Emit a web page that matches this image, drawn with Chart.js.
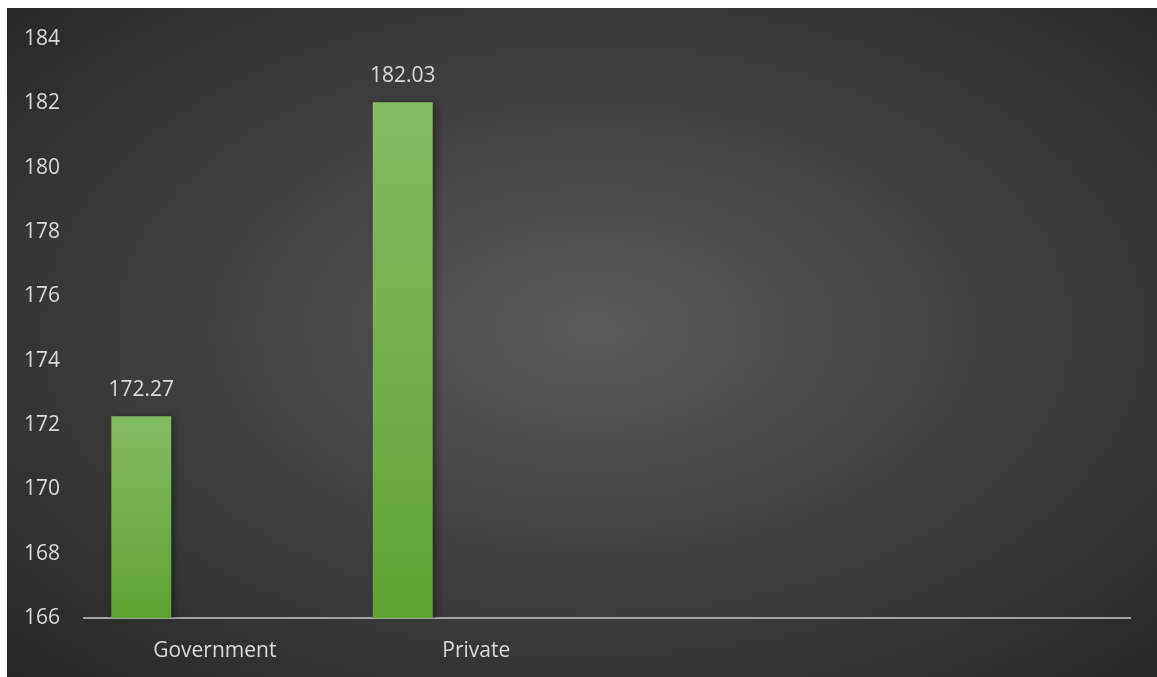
<!DOCTYPE html>
<html>
<head>
<meta charset="utf-8">
<script src="https://cdn.jsdelivr.net/npm/chart.js@4"></script>
<style>
  html, body { margin: 0; padding: 0; background: #fff; }
  #wrap {
    position: absolute; left: 7px; top: 8px; width: 1150px; height: 669px;
    background: radial-gradient(ellipse farthest-corner at 51% 48%, #5a5a5a 0%, #3d3d3d 55%, #262626 100%);
  }
</style>
</head>
<body>
<div id="wrap"><canvas id="my-chart" width="1150" height="669"></canvas></div>
<script>
const categories = ['Government', 'Private', '', ''];
const seriesA = [172.27, 182.03, null, null];
const seriesB = [null, null, null, null];
const seriesC = [null, null, null, null];
const yTicks = { min: 166, max: 184, step: 2 };

const textColor = '#d9d9d9';
const fontFamily = '"Open Sans", sans-serif';
const fontSize = 21;

// gradient per bar, light at the top, darker at the base
function barFill(c) {
  const chart = c.chart;
  if (!chart.chartArea || c.raw == null) return '#6aac3e';
  const y = chart.scales.y;
  const top = y.getPixelForValue(c.raw);
  const bottom = y.getPixelForValue(yTicks.min);
  const g = chart.ctx.createLinearGradient(0, top, 0, bottom);
  g.addColorStop(0, '#84bc62');
  g.addColorStop(1, '#5fa233');
  return g;
}

const barShadow = {
  id: 'barShadow',
  beforeDatasetsDraw(chart) {
    const ctx = chart.ctx;
    ctx.save();
    ctx.shadowColor = 'rgba(0,0,0,0.45)';
    ctx.shadowBlur = 7;
    ctx.shadowOffsetX = 3;
    ctx.shadowOffsetY = 1;
  },
  afterDatasetsDraw(chart) {
    chart.ctx.restore();
  }
};

const valueLabels = {
  id: 'valueLabels',
  afterDraw(chart) {
    const ctx = chart.ctx;
    ctx.save();
    ctx.fillStyle = textColor;
    ctx.font = fontSize + 'px ' + fontFamily;
    ctx.textAlign = 'center';
    ctx.textBaseline = 'middle';
    chart.data.datasets.forEach((ds, i) => {
      chart.getDatasetMeta(i).data.forEach((bar, j) => {
        const v = ds.data[j];
        if (v == null) return;
        ctx.fillText(v.toFixed(2), bar.x, bar.y - 26);
      });
    });
    ctx.restore();
  }
};

const ctx = document.getElementById('my-chart');
const myChart = new Chart(ctx, {
  type: 'bar',
  data: {
    labels: categories,
    datasets: [
      { label: 'Series 1', data: seriesA, backgroundColor: barFill },
      { label: 'Series 2', data: seriesB, backgroundColor: '#6aac3e' },
      { label: 'Series 3', data: seriesC, backgroundColor: '#6aac3e' }
    ]
  },
  options: {
    responsive: false,
    animation: false,
    categoryPercentage: 0.843,
    barPercentage: 0.816,
    layout: { padding: { left: 0, right: 27, top: 31, bottom: 13 } },
    plugins: {
      legend: { display: false },
      tooltip: { enabled: false }
    },
    scales: {
      x: {
        grid: { display: false, drawTicks: false },
        border: { display: true, color: '#a3a3a3', width: 2 },
        ticks: { color: textColor, font: { family: fontFamily, size: fontSize }, padding: 20 },
        afterFit(s) {
          s.paddingLeft = 0;
          s.paddingRight = 0;
          s.height = 46;
        }
      },
      y: {
        min: yTicks.min,
        max: yTicks.max,
        grid: { display: false, drawTicks: false },
        border: { display: false },
        ticks: {
          stepSize: yTicks.step,
          color: textColor,
          font: { family: fontFamily, size: fontSize },
          padding: 24
        },
        afterFit(s) {
          s.paddingTop = 0;
          s.paddingBottom = 0;
          s.width = 77;
        }
      }
    }
  },
  plugins: [barShadow, valueLabels]
});
</script>
</body>
</html>
